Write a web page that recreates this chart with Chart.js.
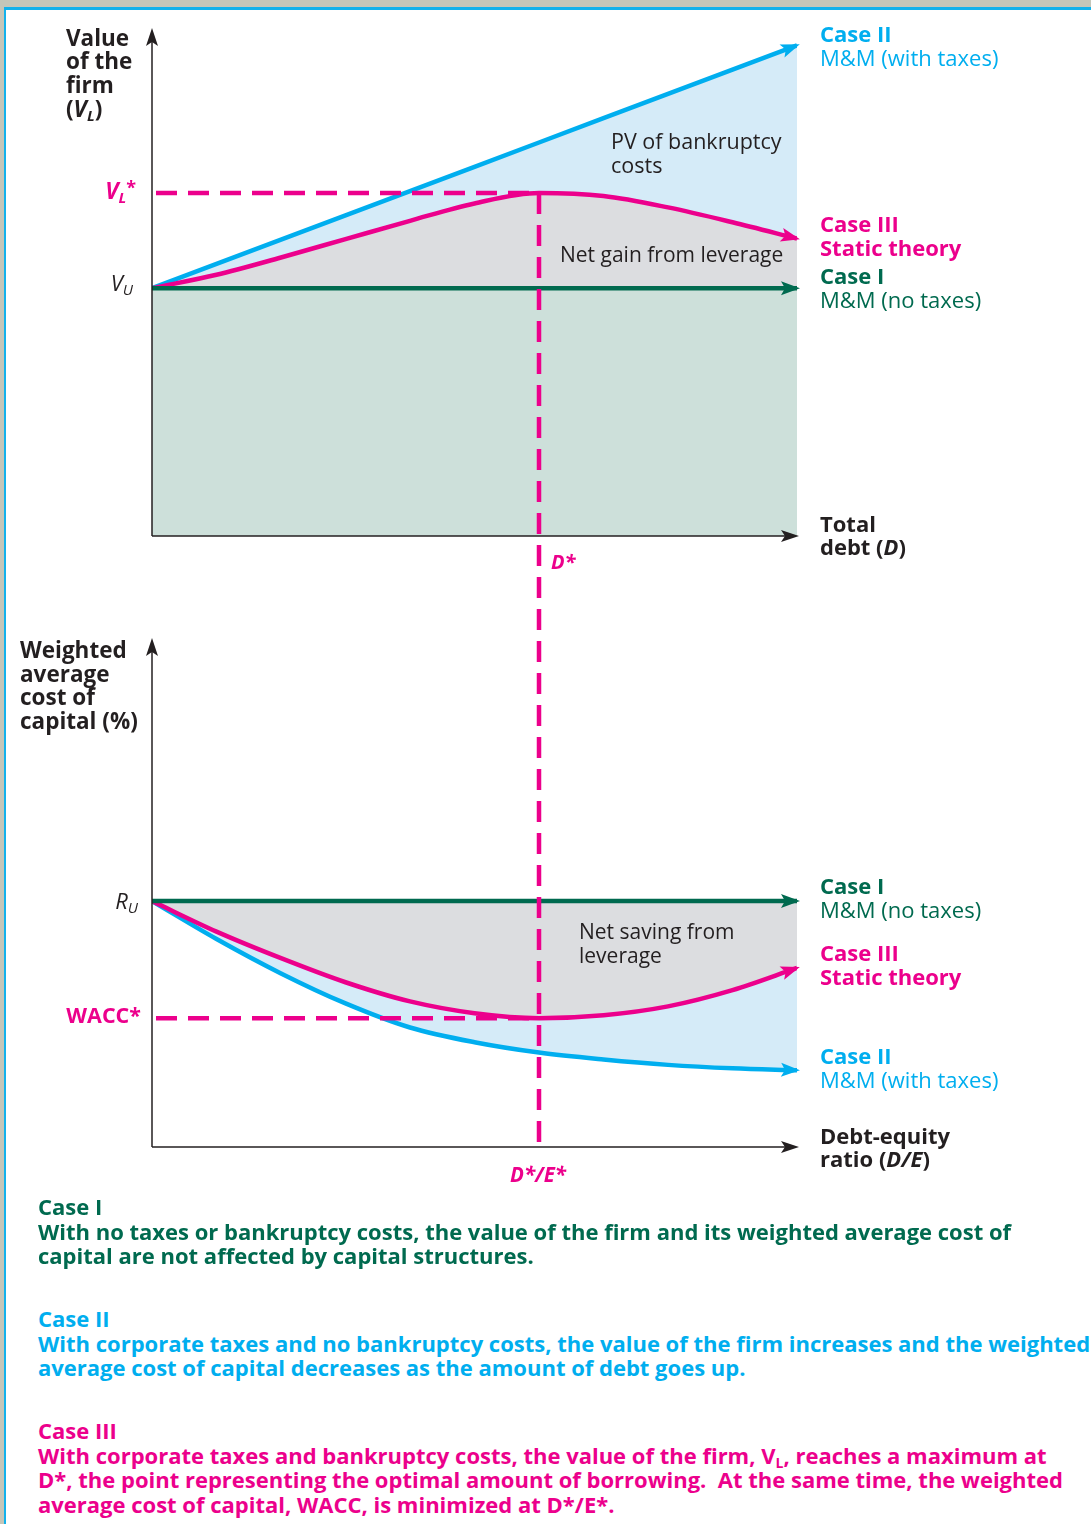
<!DOCTYPE html>
<html><head><meta charset="utf-8">
<script src="https://cdn.jsdelivr.net/npm/chart.js@4.4.1/dist/chart.umd.min.js"></script>
<style>
html,body{margin:0;padding:0;}
body{width:1091px;height:1524px;background:#c5c6b9;position:relative;overflow:hidden;font-family:"Open Sans",sans-serif;}
#panel{position:absolute;left:4px;top:7px;right:0;bottom:0;background:#fff;border-left:2.5px solid #13b1eb;border-top:3px solid #13b1eb;}
canvas{position:absolute;left:0;}
#cTop{top:0;}
#cBot{top:600px;}
.note{position:absolute;left:38px;font-weight:700;font-size:22px;line-height:24.5px;white-space:nowrap;}
.note sub{font-size:14px;line-height:0;vertical-align:-4px;}
</style></head>
<body>
<div id="panel"></div>
<canvas id="cTop" width="1091" height="600"></canvas>
<canvas id="cBot" width="1091" height="600"></canvas>
<div class="note" style="top:1194px;color:#006a4f;">Case I<br>With no taxes or bankruptcy costs, the value of the firm and its weighted average cost of<br>capital are not affected by capital structures.</div>
<div class="note" style="top:1306px;color:#00aeef;">Case II<br>With corporate taxes and no bankruptcy costs, the value of the firm increases and the weighted<br>average cost of capital decreases as the amount of debt goes up.</div>
<div class="note" style="top:1418px;color:#ec008c;">Case III<br>With corporate taxes and bankruptcy costs, the value of the firm, V<sub>L</sub>, reaches a maximum at<br>D*, the point representing the optimal amount of borrowing.&nbsp; At the same time, the weighted<br>average cost of capital, WACC, is minimized at D*/E*.</div>
<script>
// ---------------- data ----------------
const debtLevels       = [0, 1, 2, 3, 4, 5, 6, 7, 8, 9, 10];
const firmValueCaseI   = [50, 50, 50, 50, 50, 50, 50, 50, 50, 50, 50];
const firmValueCaseII  = [50, 54.9, 59.8, 64.7, 69.6, 74.5, 79.4, 84.3, 89.2, 94.1, 99.0];
const firmValueCaseIII = [50, 52.7, 56.2, 59.9, 63.6, 67.1, 69.2, 68.6, 66.3, 63.3, 60.0];
const waccCaseI        = [50, 50, 50, 50, 50, 50, 50, 50, 50, 50, 50];
const waccCaseII       = [50, 42.3, 35.3, 29.2, 24.3, 21.3, 19.2, 17.8, 16.7, 16.0, 15.6];
const waccCaseIII      = [50, 43.8, 38.4, 33.5, 29.6, 27.2, 26.2, 26.8, 28.6, 31.9, 36.4];
const optimalIndex     = 6;   // D* and D*/E*
const firmAxisMax = 102.5;
const waccAxisMax = 103.5;

// ---------------- styles ----------------
const BLUE = '#00aeef', MAGENTA = '#ec008c', GREEN = '#006a4f', INK = '#231f20';
const FILL_GREEN = '#cde0da', FILL_GRAY = '#dcdde0', FILL_BLUE = '#d5ebf8';
const FF = '"Open Sans", "Noto Sans", sans-serif';
const f = (size, weight = 400, italic = false) => `${italic ? 'italic ' : ''}${weight} ${size}px ${FF}`;

function pts(arr) { return debtLevels.map((d, i) => ({ x: d, y: arr[i] })); }

function rich(ctx, x, y, segs, align = 'left') {
  let w = 0;
  segs.forEach(s => { ctx.font = s.f; s.w = ctx.measureText(s.t).width + (s.dx || 0); w += s.w; });
  let cx = align === 'right' ? x - w : align === 'center' ? x - w / 2 : x;
  ctx.textBaseline = 'middle'; ctx.textAlign = 'left';
  segs.forEach(s => { ctx.font = s.f; ctx.fillStyle = s.c; ctx.fillText(s.t, cx, y + (s.dy || 0)); cx += s.w; });
}

function arrowHead(ctx, tipX, tipY, dx, dy, color, len = 18, half = 7) {
  const n = Math.hypot(dx, dy); const ux = dx / n, uy = dy / n; const px = -uy, py = ux;
  const bx = tipX - ux * len, by = tipY - uy * len;
  const nx = tipX - ux * (len - 4), ny = tipY - uy * (len - 4);
  ctx.save(); ctx.fillStyle = color; ctx.beginPath();
  ctx.moveTo(tipX, tipY);
  ctx.lineTo(bx + px * half, by + py * half);
  ctx.lineTo(nx, ny);
  ctx.lineTo(bx - px * half, by - py * half);
  ctx.closePath(); ctx.fill(); ctx.restore();
}

function drawAxes(chart) {
  const { ctx, chartArea: a } = chart;
  ctx.save(); ctx.strokeStyle = INK; ctx.lineWidth = 1.5;
  ctx.beginPath(); ctx.moveTo(a.left, a.bottom); ctx.lineTo(a.left, a.top + 10); ctx.stroke();
  ctx.beginPath(); ctx.moveTo(a.left, a.bottom); ctx.lineTo(a.right - 6, a.bottom); ctx.stroke();
  ctx.restore();
  arrowHead(ctx, a.left, a.top, 0, -1, INK, 18, 6);
  arrowHead(ctx, a.right + 2, a.bottom, 1, 0, INK, 18, 6);
}

function lineArrows(chart) {
  const ctx = chart.ctx;
  chart.data.datasets.forEach((ds, i) => {
    const el = chart.getDatasetMeta(i).data;
    const last = el[el.length - 1], prev = el[el.length - 2];
    let dx = last.x - (last.cp1x ?? prev.x), dy = last.y - (last.cp1y ?? prev.y);
    if (Math.hypot(dx, dy) < 0.5) { dx = last.x - prev.x; dy = last.y - prev.y; }
    const n = Math.hypot(dx, dy);
    arrowHead(ctx, last.x + dx / n * 3, last.y + dy / n * 3, dx, dy, ds.borderColor, 19, 7);
  });
}

const DASH = [21, 11];

const topDecor = {
  id: 'topDecor',
  afterDatasetsDraw(chart) {
    const { ctx, chartArea: a, scales: { x, y } } = chart;
    const xd = x.getPixelForValue(debtLevels[optimalIndex]);
    const yv = y.getPixelForValue(firmValueCaseIII[optimalIndex]);
    const yu = y.getPixelForValue(firmValueCaseI[0]);
    ctx.save(); ctx.strokeStyle = MAGENTA; ctx.lineWidth = 4.5; ctx.setLineDash(DASH);
    ctx.beginPath(); ctx.moveTo(a.left + 4, yv); ctx.lineTo(xd, yv); ctx.stroke();
    ctx.beginPath(); ctx.moveTo(xd, yv); ctx.lineTo(xd, chart.height); ctx.stroke();
    ctx.restore();
    window.__dashPhase = (chart.height - yv) % (DASH[0] + DASH[1]);
    lineArrows(chart);
    drawAxes(chart);

    const tx = a.left - 86;
    rich(ctx, tx, 40, [{ t: 'Value', f: f(22.5, 700), c: INK }]);
    rich(ctx, tx, 63, [{ t: 'of the', f: f(22.5, 700), c: INK }]);
    rich(ctx, tx, 87, [{ t: 'firm', f: f(22.5, 700), c: INK }]);
    rich(ctx, tx, 111, [{ t: '(', f: f(22.5, 700), c: INK }, { t: 'V', f: f(22.5, 700, true), c: INK },
      { t: 'L', f: f(15, 700, true), c: INK, dy: 6 }, { t: ')', f: f(22.5, 700), c: INK }]);
    rich(ctx, a.left - 16, yv, [{ t: 'V', f: f(22.5, 700, true), c: MAGENTA },
      { t: 'L', f: f(15, 700, true), c: MAGENTA, dy: 6 }, { t: '*', f: f(18, 700), c: MAGENTA, dy: -4 }], 'right');
    rich(ctx, a.left - 19, yu - 3, [{ t: 'V', f: f(22, 400, true), c: INK },
      { t: 'U', f: f(15, 400, true), c: INK, dy: 6 }], 'right');
    rich(ctx, 611, 143, [{ t: 'PV of bankruptcy', f: f(21.5), c: INK }]);
    rich(ctx, 611, 167, [{ t: 'costs', f: f(21.5), c: INK }]);
    rich(ctx, 560, 256, [{ t: 'Net gain from leverage', f: f(21), c: INK }]);
    const rx = a.right + 23;
    rich(ctx, rx, 36, [{ t: 'Case II', f: f(22, 700), c: BLUE }]);
    rich(ctx, rx, 60, [{ t: 'M&M (with taxes)', f: f(22), c: BLUE }]);
    rich(ctx, rx, 226, [{ t: 'Case III', f: f(22, 700), c: MAGENTA }]);
    rich(ctx, rx, 250, [{ t: 'Static theory', f: f(22, 700), c: MAGENTA }]);
    rich(ctx, rx, 278, [{ t: 'Case I', f: f(22, 700), c: GREEN }]);
    rich(ctx, rx, 302, [{ t: 'M&M (no taxes)', f: f(22), c: GREEN }]);
    rich(ctx, rx, a.bottom - 10, [{ t: 'Total', f: f(22, 700), c: INK }]);
    rich(ctx, rx, a.bottom + 13, [{ t: 'debt (', f: f(22, 700), c: INK }, { t: 'D', f: f(22, 700, true), c: INK }, { t: ')', f: f(22, 700), c: INK }]);
    rich(ctx, xd + 12, a.bottom + 27, [{ t: 'D*', f: f(20, 700, true), c: MAGENTA }]);
  }
};

const botDecor = {
  id: 'botDecor',
  afterDatasetsDraw(chart) {
    const { ctx, chartArea: a, scales: { x, y } } = chart;
    const xd = x.getPixelForValue(debtLevels[optimalIndex]);
    const yw = y.getPixelForValue(waccCaseIII[optimalIndex]);
    const yr = y.getPixelForValue(waccCaseI[0]);
    ctx.save(); ctx.strokeStyle = MAGENTA; ctx.lineWidth = 4.5; ctx.setLineDash(DASH);
    ctx.beginPath(); ctx.moveTo(a.left + 4, yw); ctx.lineTo(xd, yw); ctx.stroke();
    ctx.lineDashOffset = window.__dashPhase || 0;
    ctx.beginPath(); ctx.moveTo(xd, 0); ctx.lineTo(xd, a.bottom); ctx.stroke();
    ctx.restore();
    lineArrows(chart);
    drawAxes(chart);

    const tx = 20;
    rich(ctx, tx, 52, [{ t: 'Weighted', f: f(22.5, 700), c: INK }]);
    rich(ctx, tx, 76, [{ t: 'average', f: f(22.5, 700), c: INK }]);
    rich(ctx, tx, 99, [{ t: 'cost of', f: f(22.5, 700), c: INK }]);
    rich(ctx, tx, 123, [{ t: 'capital (%)', f: f(22.5, 700), c: INK }]);
    rich(ctx, a.left - 14, yr + 2, [{ t: 'R', f: f(22, 400, true), c: INK },
      { t: 'U', f: f(15, 400, true), c: INK, dy: 6 }], 'right');
    rich(ctx, a.left - 11, yw - 1, [{ t: 'WACC*', f: f(21.5, 700), c: MAGENTA }], 'right');
    rich(ctx, 579, 333, [{ t: 'Net saving from', f: f(21), c: INK }]);
    rich(ctx, 579, 357, [{ t: 'leverage', f: f(21), c: INK }]);
    rich(ctx, xd - 1, a.bottom + 29, [{ t: 'D*/E*', f: f(20.5, 700, true), c: MAGENTA }], 'center');
    const rx = a.right + 23;
    rich(ctx, rx, 288, [{ t: 'Case I', f: f(22, 700), c: GREEN }]);
    rich(ctx, rx, 312, [{ t: 'M&M (no taxes)', f: f(22), c: GREEN }]);
    rich(ctx, rx, 355, [{ t: 'Case III', f: f(22, 700), c: MAGENTA }]);
    rich(ctx, rx, 379, [{ t: 'Static theory', f: f(22, 700), c: MAGENTA }]);
    rich(ctx, rx, 458, [{ t: 'Case II', f: f(22, 700), c: BLUE }]);
    rich(ctx, rx, 482, [{ t: 'M&M (with taxes)', f: f(22), c: BLUE }]);
    rich(ctx, rx, a.bottom - 9, [{ t: 'Debt-equity', f: f(22, 700), c: INK }]);
    rich(ctx, rx, a.bottom + 14, [{ t: 'ratio (', f: f(22, 700), c: INK }, { t: 'D/E', f: f(22, 700, true), c: INK }, { t: ')', f: f(22, 700), c: INK }]);
  }
};

function baseOptions(pad, yMax) {
  return {
    responsive: false, animation: false, events: [],
    layout: { padding: pad },
    scales: {
      x: { type: 'linear', min: 0, max: 10, display: false },
      y: { type: 'linear', min: 0, max: yMax, display: false }
    },
    elements: { point: { radius: 0 }, line: { borderWidth: 4.5, borderCapStyle: 'butt' } },
    plugins: { legend: { display: false }, tooltip: { enabled: false } }
  };
}

new Chart(document.getElementById('cTop'), {
  type: 'line',
  data: {
    datasets: [
      { label: 'Case I', data: pts(firmValueCaseI), borderColor: GREEN, backgroundColor: FILL_GREEN, fill: 'origin', tension: 0 },
      { label: 'Case III', data: pts(firmValueCaseIII), borderColor: MAGENTA, backgroundColor: FILL_GRAY, fill: 0, cubicInterpolationMode: 'monotone' },
      { label: 'Case II', data: pts(firmValueCaseII), borderColor: BLUE, backgroundColor: FILL_BLUE, fill: 1, tension: 0 }
    ]
  },
  options: baseOptions({ left: 152, right: 294, top: 28, bottom: 64 }, firmAxisMax),
  plugins: [topDecor]
});

new Chart(document.getElementById('cBot'), {
  type: 'line',
  data: {
    datasets: [
      { label: 'Case I', data: pts(waccCaseI), borderColor: GREEN, fill: false, tension: 0 },
      { label: 'Case III', data: pts(waccCaseIII), borderColor: MAGENTA, backgroundColor: FILL_GRAY, fill: 0, cubicInterpolationMode: 'monotone' },
      { label: 'Case II', data: pts(waccCaseII), borderColor: BLUE, backgroundColor: FILL_BLUE, fill: 1, cubicInterpolationMode: 'monotone' }
    ]
  },
  options: baseOptions({ left: 152, right: 294, top: 38, bottom: 53 }, waccAxisMax),
  plugins: [botDecor]
});
</script>
</body></html>
